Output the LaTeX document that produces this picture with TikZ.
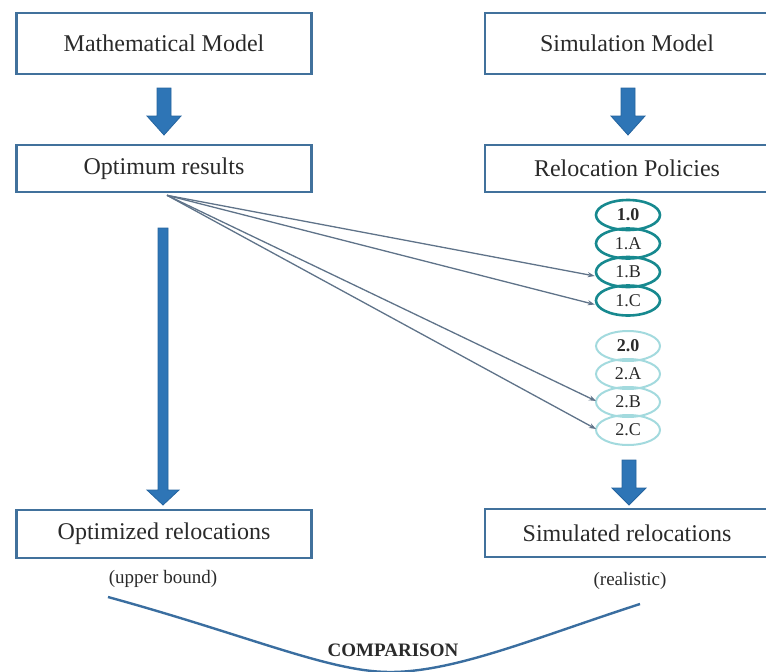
\documentclass[tikz,border=0pt]{standalone}
\usepackage{fontspec}
\setmainfont{Liberation Serif}
\usetikzlibrary{calc,arrows.meta,shapes.geometric}

\definecolor{boxline}{HTML}{41719C}
\definecolor{arrowfill}{HTML}{2E75B6}
\definecolor{arrowedge}{HTML}{25649F}
\definecolor{tealdark}{HTML}{17898F}
\definecolor{teallight}{HTML}{A3DADE}
\definecolor{linkgrey}{HTML}{5F7389}
\definecolor{inktext}{HTML}{2A2A2A}
\definecolor{bowl}{HTML}{3A6EA0}

\tikzset{
  box/.style={draw=boxline, line width=2.6pt, rectangle, inner sep=0pt,
    text=inktext, font=\fontsize{24}{28}\selectfont},
  note/.style={text=inktext, inner sep=0pt, font=\fontsize{19}{22}\selectfont},
  policy/.style={ellipse, draw, inner sep=0pt, minimum width=64pt,
    minimum height=30pt, text=inktext, font=\fontsize{18}{20}\selectfont},
  policyA/.style={policy, draw=tealdark, line width=2.6pt},
  policyB/.style={policy, draw=teallight, line width=2pt},
  blockarr/.style={fill=arrowfill, draw=arrowedge, line width=0.8pt, line join=miter},
  link/.style={draw=linkgrey, line width=1.3pt,
    -{Stealth[length=7pt,width=5pt,fill=black!75]}},
}

% thick block arrow: #1 = top of shaft, #2 = tip, #3 = half shaft width,
% #4 = half head width, #5 = head length (y axis points down)
\newcommand{\blockarrow}[5]{%
  \filldraw[blockarr] ($(#1)+(-#3,0)$) -- ($(#1)+(#3,0)$) -- ($(#2)+(#3,-#5)$)
    -- ($(#2)+(#4,-#5)$) -- (#2) -- ($(#2)+(-#4,-#5)$) -- ($(#2)+(-#3,-#5)$) -- cycle;}

\begin{document}
\begin{tikzpicture}[x=1pt,y=-1pt]
\useasboundingbox (0,0) rectangle (766,672);

% boxes
\node[box, minimum width=295pt, minimum height=61pt] (mm) at (164,43.5) {Mathematical Model};
\node[box, minimum width=284pt, minimum height=61pt] (sm) at (627,43.5) {Simulation Model};
\node[box, minimum width=295pt, minimum height=47pt] (opt) at (164,168.5) {Optimum results};
\node[box, minimum width=284pt, minimum height=47pt] (rp) at (627,168.5) {Relocation Policies};
\node[box, minimum width=295pt, minimum height=48pt] (optrel) at (164,534) {Optimized relocations};
\node[box, minimum width=284pt, minimum height=48pt] (simrel) at (627,533) {Simulated relocations};

\node[note] (ub) at (163,579) {(upper bound)};
\node[note] (real) at (630,581) {(realistic)};

% policy ellipses
\node[policyA] (p10) at (628,215)   {\textbf{1.0}};
\node[policyA] (p1A) at (628,243.5) {1.A};
\node[policyA] (p1B) at (628,272)   {1.B};
\node[policyA] (p1C) at (628,300.5) {1.C};
\node[policyB] (p20) at (628,346)   {\textbf{2.0}};
\node[policyB] (p2A) at (628,374)   {2.A};
\node[policyB] (p2B) at (628,402)   {2.B};
\node[policyB] (p2C) at (628,430)   {2.C};

% block arrows between the boxes
\coordinate (a1s) at (164,88);  \coordinate (a1t) at (164,135);
\coordinate (a2s) at (628,88);  \coordinate (a2t) at (628,135);
\coordinate (a3s) at (163,228); \coordinate (a3t) at (163,505);
\coordinate (a4s) at (629,460); \coordinate (a4t) at (629,505);
\blockarrow{a1s}{a1t}{7}{17}{19}
\blockarrow{a2s}{a2t}{7}{17}{19}
\blockarrow{a3s}{a3t}{5}{16}{15}
\blockarrow{a4s}{a4t}{7}{17}{17}

% links from the optimum results to the policies
\coordinate (fan) at ($(opt.south)+(3,2)$);
\draw[link] (fan) -- ($(p1B.west)+(0,4)$);
\draw[link] (fan) -- ($(p1C.west)+(0,4)$);
\draw[link] (fan) -- ($(p2B.west)+(1,-1)$);
\draw[link] (fan) -- ($(p2C.west)+(1,-1)$);

% comparison bowl
\coordinate (bl) at (108,597);
\coordinate (bm) at (390,672);
\coordinate (br) at (640,604);
\draw[bowl, line width=2.4pt] (bl) .. controls (250,636) and (330,672) .. (bm)
  .. controls (455,672) and (535,638) .. (br);
\node[text=inktext, font=\fontsize{19}{22}\selectfont\bfseries] (cmp) at (393,650) {COMPARISON};

\end{tikzpicture}
\end{document}
